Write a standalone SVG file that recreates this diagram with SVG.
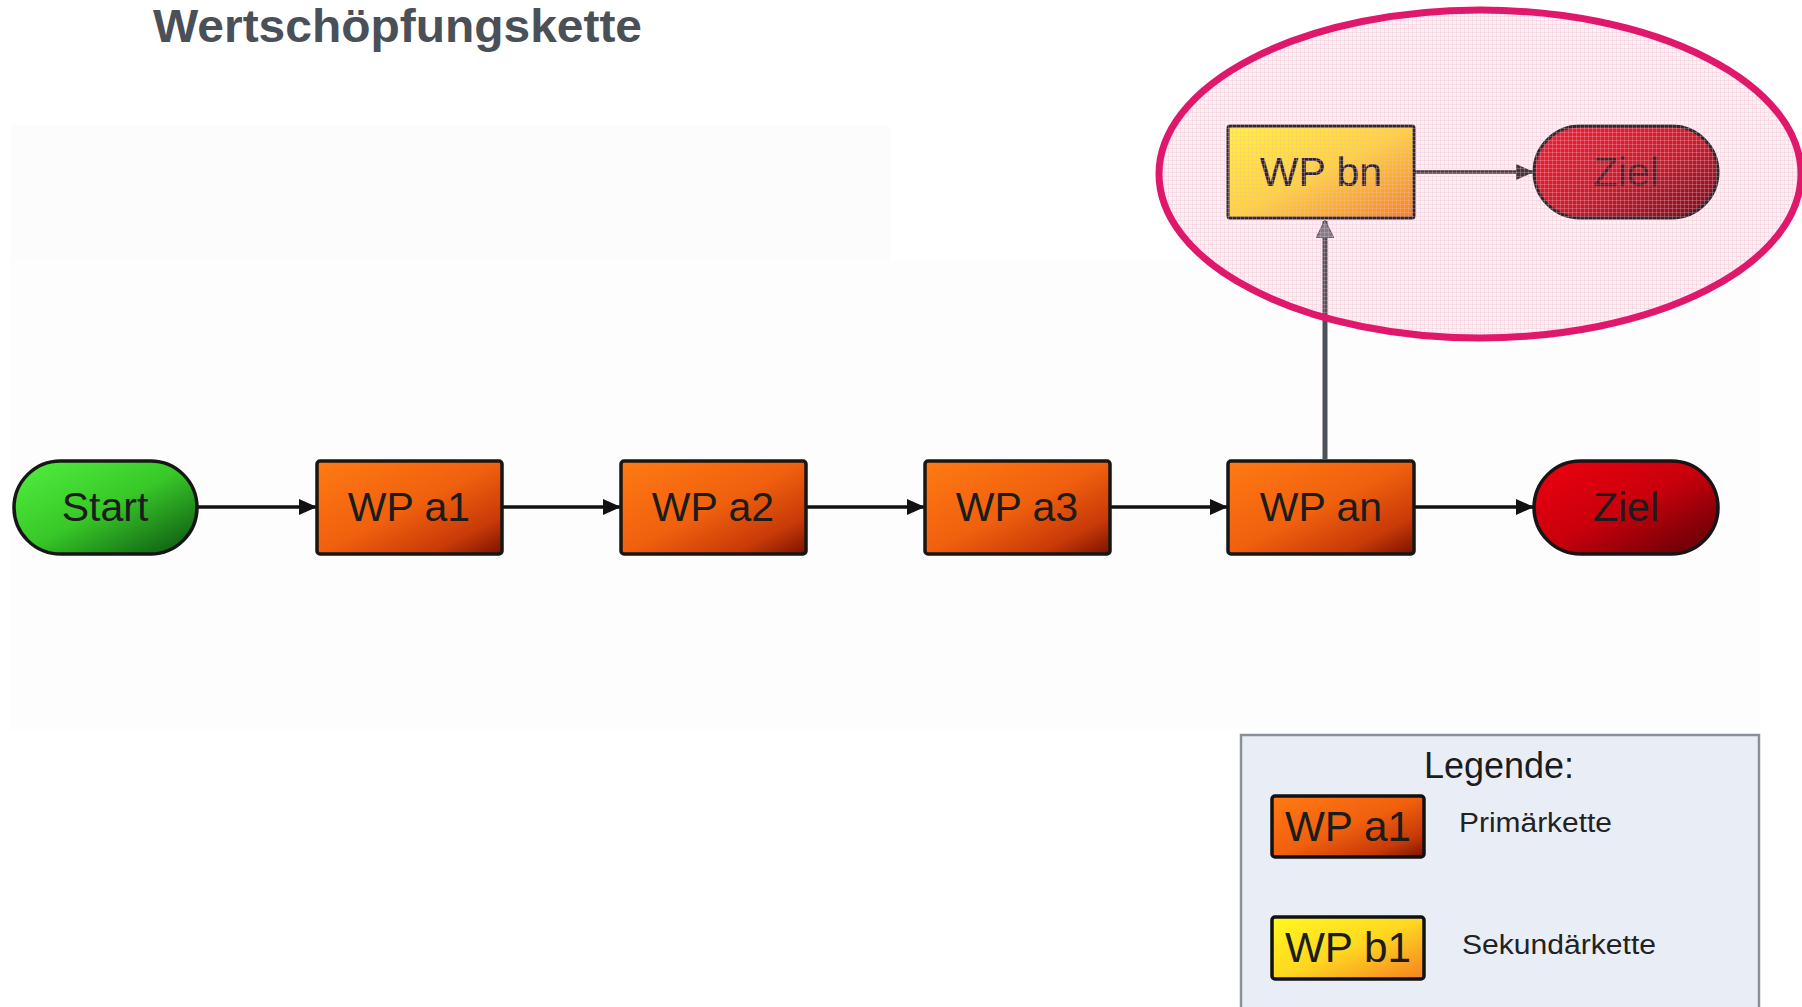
<svg xmlns="http://www.w3.org/2000/svg" width="1802" height="1007" viewBox="0 0 1802 1007">
<defs>
<style>
.node{stroke:#161616;stroke-width:3.5}
.lbl{font-family:"Liberation Sans",Arial,sans-serif;font-size:41px;fill:#1c1c1c;text-anchor:middle}
.conn{stroke:#111;stroke-width:3.5;fill:none}
.leg{font-family:"Liberation Sans",Arial,sans-serif;fill:#1c1c1c}
</style>
<linearGradient id="gOrange" x1="0" y1="0" x2="1" y2="1">
<stop offset="0" stop-color="#ff7a14"/>
<stop offset="0.5" stop-color="#f0600e"/>
<stop offset="0.8" stop-color="#c83a08"/>
<stop offset="1" stop-color="#7a1200"/>
</linearGradient>
<linearGradient id="gGreen" x1="0" y1="0" x2="1" y2="1">
<stop offset="0" stop-color="#52f040"/>
<stop offset="0.5" stop-color="#38c828"/>
<stop offset="1" stop-color="#0a5010"/>
</linearGradient>
<linearGradient id="gRed" x1="0" y1="0" x2="1" y2="1">
<stop offset="0" stop-color="#f00010"/>
<stop offset="0.5" stop-color="#c8000c"/>
<stop offset="1" stop-color="#580006"/>
</linearGradient>
<linearGradient id="gRed2" x1="0" y1="0" x2="1" y2="1">
<stop offset="0" stop-color="#f02030"/>
<stop offset="0.55" stop-color="#c81c28"/>
<stop offset="1" stop-color="#6a1018"/>
</linearGradient>
<linearGradient id="gYellow" x1="0" y1="0" x2="1" y2="1">
<stop offset="0" stop-color="#fff820"/>
<stop offset="0.5" stop-color="#ffd820"/>
<stop offset="1" stop-color="#f58020"/>
</linearGradient>
<pattern id="grid" width="4" height="4" patternUnits="userSpaceOnUse">
<path d="M0 0.5H4M0.5 0V4" stroke="#f4b8cc" stroke-width="1" fill="none" opacity="0.3"/>
</pattern>
<clipPath id="ellClip"><ellipse cx="1480" cy="174" rx="321" ry="164"/></clipPath>
<marker id="arrBig" markerWidth="18" markerHeight="16" refX="17" refY="8" orient="auto" markerUnits="userSpaceOnUse" viewBox="0 0 18 16">
<path d="M0 0L18 8L0 16Z" fill="#111"/>
</marker>
<marker id="arrGray" markerWidth="18" markerHeight="18" refX="17" refY="9" orient="auto" markerUnits="userSpaceOnUse" viewBox="0 0 18 18">
<path d="M0 0L18 9L0 18Z" fill="#7d828a" stroke="#4b5158" stroke-width="1"/>
</marker>
<marker id="arrDark" markerWidth="18" markerHeight="16" refX="17" refY="8" orient="auto" markerUnits="userSpaceOnUse" viewBox="0 0 18 16">
<path d="M0 0L18 8L0 16Z" fill="#3a3a3e"/>
</marker>
</defs>
<rect width="1802" height="1007" fill="#ffffff"/>
<rect x="10" y="125" width="880" height="135" fill="#fcfcfc"/>
<rect x="10" y="260" width="1750" height="470" fill="#fdfdfd"/>

<text x="153" y="42" font-family="'Liberation Sans',Arial,sans-serif" font-weight="bold" font-size="46" fill="#4a5058" textLength="489" lengthAdjust="spacingAndGlyphs">Wertschöpfungskette</text>

<g id="highlight">
<ellipse cx="1480" cy="174" rx="321" ry="164" fill="#fdf0f5"/>
</g>

<g id="connectors">
<line class="conn" x1="198" y1="507" x2="316" y2="507" marker-end="url(#arrBig)"/>
<line class="conn" x1="502" y1="507" x2="620" y2="507" marker-end="url(#arrBig)"/>
<line class="conn" x1="806" y1="507" x2="924" y2="507" marker-end="url(#arrBig)"/>
<line class="conn" x1="1110" y1="507" x2="1227" y2="507" marker-end="url(#arrBig)"/>
<line class="conn" x1="1414" y1="507" x2="1533" y2="507" marker-end="url(#arrBig)"/>
<line x1="1414" y1="172" x2="1533" y2="172" stroke="#3a3a3e" stroke-width="3.5" marker-end="url(#arrDark)"/>
<line x1="1325" y1="459" x2="1325" y2="221" stroke="#4b5158" stroke-width="5" marker-end="url(#arrGray)"/>
</g>

<g id="start">
<rect class="node" x="14" y="461" width="183" height="93" rx="46.5" fill="url(#gGreen)"/>
<text class="lbl" x="105" y="521">Start</text>
</g>
<g id="wp_a1">
<rect class="node" x="317" y="461" width="185" height="93" rx="3" fill="url(#gOrange)"/>
<text class="lbl" x="409" y="521">WP a1</text>
</g>
<g id="wp_a2">
<rect class="node" x="621" y="461" width="185" height="93" rx="3" fill="url(#gOrange)"/>
<text class="lbl" x="713" y="521">WP a2</text>
</g>
<g id="wp_a3">
<rect class="node" x="925" y="461" width="185" height="93" rx="3" fill="url(#gOrange)"/>
<text class="lbl" x="1017" y="521">WP a3</text>
</g>
<g id="wp_an">
<rect class="node" x="1228" y="461" width="186" height="93" rx="3" fill="url(#gOrange)"/>
<text class="lbl" x="1321" y="521">WP an</text>
</g>
<g id="ziel">
<rect class="node" x="1534" y="461" width="184" height="93" rx="46.5" fill="url(#gRed)"/>
<text class="lbl" x="1626" y="521">Ziel</text>
</g>
<g id="wp_bn">
<rect x="1228" y="126" width="186" height="92" rx="2" fill="url(#gYellow)" stroke="#2a2a2a" stroke-width="3"/>
<text class="lbl" x="1321" y="186" style="fill:#262626">WP bn</text>
</g>
<g id="ziel_top">
<rect x="1534" y="126" width="184" height="92" rx="46" fill="url(#gRed2)" stroke="#2a2a2a" stroke-width="3"/>
<text class="lbl" x="1626" y="186" style="fill:#5a1a22">Ziel</text>
</g>

<g id="highlight_overlay">
<rect x="1155" y="8" width="647" height="334" fill="url(#grid)" clip-path="url(#ellClip)"/>
<ellipse cx="1480" cy="174" rx="321" ry="164" fill="none" stroke="#e0186c" stroke-width="7"/>
</g>

<g id="legend">
<rect x="1241" y="735" width="518" height="290" fill="#e9eef6" stroke="#8a9098" stroke-width="2.5"/>
<text class="leg" x="1499" y="778" font-size="36" text-anchor="middle">Legende:</text>
<rect x="1272" y="796" width="152" height="61" rx="3" fill="url(#gOrange)" stroke="#111" stroke-width="3.5"/>
<text class="leg" x="1348" y="841" font-size="42" text-anchor="middle" textLength="126" lengthAdjust="spacingAndGlyphs">WP a1</text>
<text class="leg" x="1459" y="832" font-size="27" textLength="153" lengthAdjust="spacingAndGlyphs" style="fill:#222">Primärkette</text>
<rect x="1272" y="917" width="152" height="62" rx="3" fill="url(#gYellow)" stroke="#111" stroke-width="3.5"/>
<text class="leg" x="1348" y="962" font-size="42" text-anchor="middle" textLength="126" lengthAdjust="spacingAndGlyphs">WP b1</text>
<text class="leg" x="1462" y="954" font-size="27" textLength="194" lengthAdjust="spacingAndGlyphs" style="fill:#222">Sekundärkette</text>
</g>
</svg>
